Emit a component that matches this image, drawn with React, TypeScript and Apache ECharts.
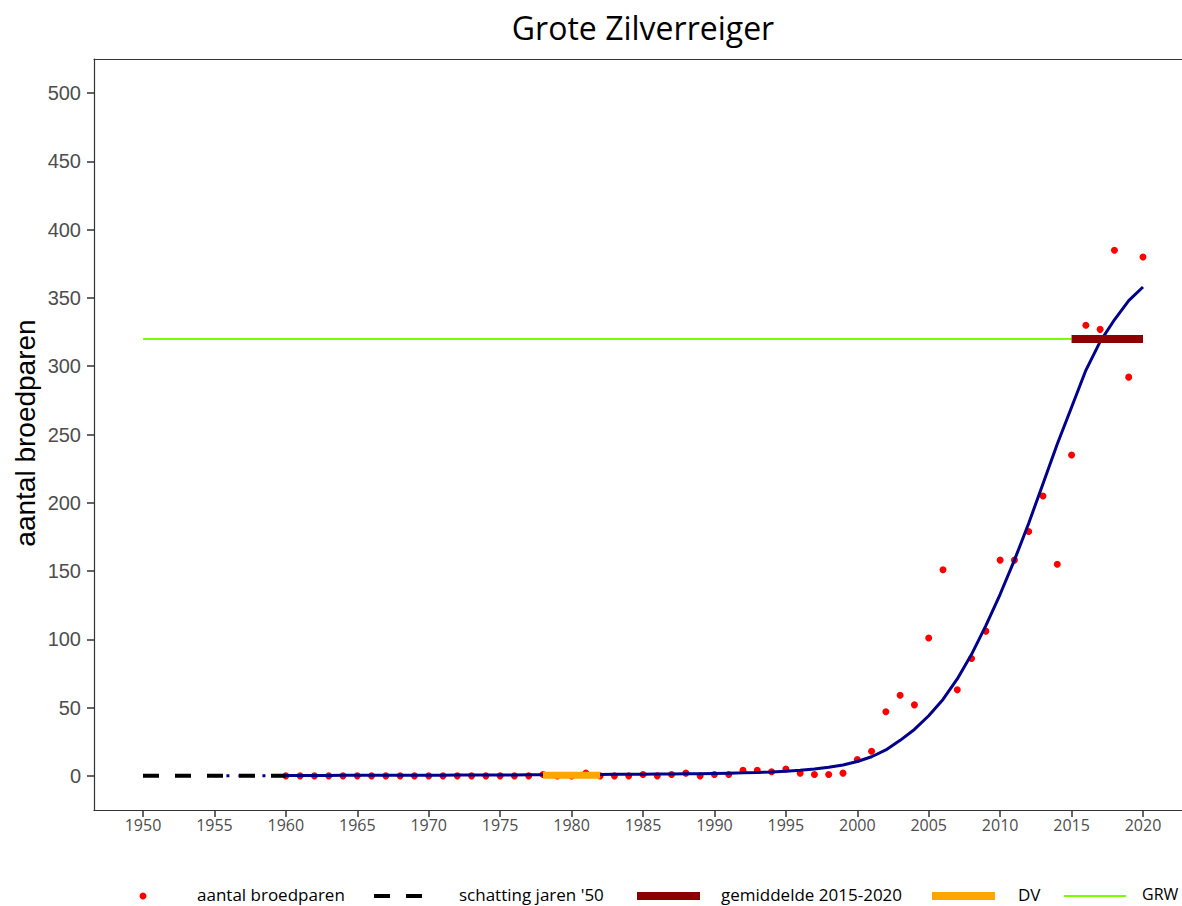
import React, { useEffect, useRef } from "react";
import * as echarts from "echarts";

const years = [
  1960, 1961, 1962, 1963, 1964, 1965, 1966, 1967, 1968, 1969,
  1970, 1971, 1972, 1973, 1974, 1975, 1976, 1977, 1978, 1979,
  1980, 1981, 1982, 1983, 1984, 1985, 1986, 1987, 1988, 1989,
  1990, 1991, 1992, 1993, 1994, 1995, 1996, 1997, 1998, 1999,
  2000, 2001, 2002, 2003, 2004, 2005, 2006, 2007, 2008, 2009,
  2010, 2011, 2012, 2013, 2014, 2015, 2016, 2017, 2018, 2019,
  2020,
];

const broedparen = [
  0, 0, 0, 0, 0, 0, 0, 0, 0, 0,
  0, 0, 0, 0, 0, 0, 0, 0, 1, 0,
  0, 2, 0, 0, 0, 1, 0, 1, 2, 0,
  1, 1, 4, 4, 3, 5, 2, 1, 1, 2,
  12, 18, 47, 59, 52, 101, 151, 63, 86, 106,
  158, 158, 179, 205, 155, 235, 330, 327, 385, 292,
  380,
];

const trend = [
  0.3, 0.3, 0.3, 0.3, 0.4, 0.4, 0.4, 0.4, 0.5, 0.5,
  0.5, 0.5, 0.6, 0.6, 0.6, 0.7, 0.7, 0.8, 0.8, 0.9,
  0.9, 1.0, 1.0, 1.1, 1.2, 1.2, 1.3, 1.4, 1.5, 1.6,
  1.8, 2.0, 2.2, 2.5, 2.9, 3.4, 4.1, 5.0, 6.3, 8.0,
  10.5, 14, 19, 26, 34, 44, 56, 71, 89, 110,
  133, 158, 185, 214, 243, 270, 297, 318, 334, 348,
  358,
];

const schattingYears = [1950, 1960];
const schattingValue = 0;
const trendVoorloperYears = [1955, 1960];
const gemiddeldeYears = [2015, 2020];
const gemiddeldeValue = 320;
const dvYears = [1978, 1982];
const dvValue = 0.5;
const grwYears = [1950, 2015];
const grwValue = 320;

const xTicks = [1950, 1955, 1960, 1965, 1970, 1975, 1980, 1985, 1990, 1995, 2000, 2005, 2010, 2015, 2020];
const yTicks = [0, 50, 100, 150, 200, 250, 300, 350, 400, 450, 500];

const legendNames = ["aantal broedparen", "schatting jaren '50", "gemiddelde 2015-2020", "DV", "GRW"];

export default function App() {
  const ref = useRef<HTMLDivElement>(null);

  useEffect(() => {
    if (!ref.current) return;
    const chart = echarts.init(ref.current, undefined, { renderer: "svg" });
    const legendFont = { fontFamily: "Open Sans", fontSize: 17, fill: "#000" };
    const ly = 894;
    const xMin = 1946.57;
    const xMax = 2022.73;
    chart.setOption({
      animation: false,
      backgroundColor: "#fff",
      grid: {
        left: 94,
        top: 59,
        right: 0,
        bottom: 96,
        show: false,
        containLabel: false,
        outerBoundsMode: "none",
      },
      xAxis: [
        {
          type: "value",
          min: xMin,
          max: xMax,
          splitLine: { show: false },
          axisLine: { show: true, onZero: false, lineStyle: { color: "#333", width: 1.2 } },
          axisTick: { show: true, customValues: xTicks, length: 7, lineStyle: { color: "#333", width: 1.5 } },
          axisLabel: {
            customValues: xTicks,
            formatter: (v: number) => String(v),
            color: "#4d4d4d",
            fontFamily: "Open Sans",
            fontSize: 16,
            margin: 7,
          },
        },
        {
          type: "value",
          position: "top",
          min: xMin,
          max: xMax,
          splitLine: { show: false },
          axisLine: { show: true, onZero: false, lineStyle: { color: "#333", width: 1.1 } },
          axisTick: { show: false },
          axisLabel: { show: false },
        },
      ],
      yAxis: {
        type: "value",
        min: -25,
        max: 525,
        splitLine: { show: false },
        axisLine: { show: true, onZero: false, lineStyle: { color: "#333", width: 1.2 } },
        axisTick: { show: true, customValues: yTicks, length: 7, lineStyle: { color: "#333", width: 1.5 } },
        axisLabel: {
          customValues: yTicks,
          formatter: (v: number) => String(v),
          color: "#4d4d4d",
          fontFamily: "Liberation Sans",
          fontSize: 20,
          margin: 13,
        },
      },
      graphic: [
        {
          type: "text",
          x: 643,
          y: 27,
          style: {
            text: "Grote Zilverreiger",
            fontFamily: "Open Sans",
            fontSize: 32,
            fill: "#000",
            textAlign: "center",
            textVerticalAlign: "middle",
          },
        },
        {
          type: "text",
          x: 25,
          y: 433,
          rotation: Math.PI / 2,
          style: {
            text: "aantal broedparen",
            fontFamily: "Liberation Sans",
            fontSize: 28,
            fill: "#000",
            textAlign: "center",
            textVerticalAlign: "middle",
          },
        },
        { type: "circle", shape: { cx: 143, cy: ly + 2, r: 3.5 }, style: { fill: "#ff0000" } },
        { type: "text", x: 197, y: ly, style: { ...legendFont, text: legendNames[0], textVerticalAlign: "middle" } },
        {
          type: "line",
          shape: { x1: 374, y1: ly + 2, x2: 422, y2: ly + 2 },
          style: { stroke: "#000", lineWidth: 4, lineDash: [16, 16] },
        },
        { type: "text", x: 459, y: ly, style: { ...legendFont, text: legendNames[1], textVerticalAlign: "middle" } },
        { type: "rect", shape: { x: 637, y: ly - 2, width: 63, height: 8 }, style: { fill: "#8b0000" } },
        { type: "text", x: 721, y: ly, style: { ...legendFont, text: legendNames[2], textVerticalAlign: "middle" } },
        { type: "rect", shape: { x: 932, y: ly - 2, width: 63, height: 8 }, style: { fill: "#ffa500" } },
        { type: "text", x: 1018, y: ly, style: { ...legendFont, text: legendNames[3], textVerticalAlign: "middle" } },
        {
          type: "line",
          shape: { x1: 1064, y1: ly + 2, x2: 1126, y2: ly + 2 },
          style: { stroke: "#7cfc00", lineWidth: 2 },
        },
        {
          type: "text",
          x: 1142,
          y: ly,
          style: { ...legendFont, fontSize: 16, text: legendNames[4], textVerticalAlign: "middle" },
        },
      ],
      series: [
        {
          name: "GRW",
          type: "line",
          data: grwYears.map((x) => [x, grwValue]),
          showSymbol: false,
          lineStyle: { color: "#7cfc00", width: 2 },
          silent: true,
        },
        {
          name: "trend jaren '50",
          type: "line",
          data: trendVoorloperYears.map((x) => [x, schattingValue]),
          showSymbol: false,
          lineStyle: { color: "#00008b", width: 3, type: [3, 9] },
          silent: true,
        },
        {
          name: "schatting jaren '50",
          type: "line",
          data: schattingYears.map((x) => [x, schattingValue]),
          showSymbol: false,
          lineStyle: { color: "#000", width: 4, type: [16, 16] },
          silent: true,
        },
        {
          name: "trend",
          type: "line",
          data: years.map((x, i) => [x, trend[i]]),
          showSymbol: false,
          lineStyle: { color: "#00008b", width: 3 },
          silent: true,
        },
        {
          name: "DV",
          type: "line",
          data: dvYears.map((x) => [x, dvValue]),
          showSymbol: false,
          lineStyle: { color: "#ffa500", width: 7, cap: "butt" },
          silent: true,
        },
        {
          name: "gemiddelde 2015-2020",
          type: "line",
          data: gemiddeldeYears.map((x) => [x, gemiddeldeValue]),
          showSymbol: false,
          lineStyle: { color: "#8b0000", width: 8, cap: "butt" },
          silent: true,
        },
        {
          name: "aantal broedparen",
          type: "scatter",
          data: years.map((x, i) => [x, broedparen[i]]),
          symbolSize: 7,
          itemStyle: { color: "#ff0000", opacity: 1 },
          silent: true,
        },
      ],
    });
    return () => chart.dispose();
  }, []);

  return (
    <div
      ref={ref}
      style={{ position: "fixed", left: 0, top: 0, width: 1182, height: 906, background: "#fff" }}
    />
  );
}
